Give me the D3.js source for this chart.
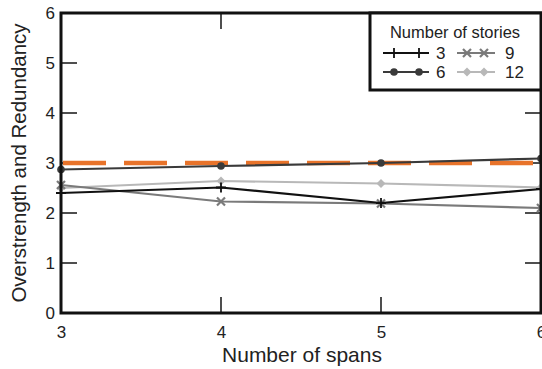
<!DOCTYPE html>
<html>
<head>
<meta charset="utf-8">
<script src="https://cdn.jsdelivr.net/npm/d3@7"></script>
<style>
  html, body { margin: 0; padding: 0; background: #fff; }
  svg { display: block; font-family: "Liberation Sans", Arial, sans-serif; }
</style>
</head>
<body>
<svg id="chart" width="542" height="369"></svg>
<script>
// Number of spans on the x axis
const spans = [3, 4, 5, 6];
// Overstrength and redundancy per building height
const stories3  = [2.40, 2.51, 2.20, 2.48];
const stories6  = [2.87, 2.94, 3.00, 3.09];
const stories9  = [2.56, 2.23, 2.19, 2.10];
const stories12 = [2.50, 2.64, 2.59, 2.51];
// Reference value drawn as the dashed line
const referenceValue = 3.0;
const yTicks = [0, 1, 2, 3, 4, 5, 6];
const xTicks = [3, 4, 5, 6];

const series = [
  { name: "3",  values: stories3,  color: "#111111", marker: "plus" },
  { name: "6",  values: stories6,  color: "#3a3a3a", marker: "circle" },
  { name: "9",  values: stories9,  color: "#7a7a7a", marker: "cross" },
  { name: "12", values: stories12, color: "#b8b8b8", marker: "diamond" }
];

const svg = d3.select("#chart");
const margin = { left: 61, right: 1, top: 13, bottom: 56 };
const W = 542, H = 369;

const x = d3.scaleLinear().domain([3, 6]).range([margin.left, W - margin.right]);
const y = d3.scaleLinear().domain([0, 6]).range([H - margin.bottom, margin.top]);

const textColor = "#222";
const fontFamily = "Liberation Sans, Arial, sans-serif";

// Tick marks pointing inward on all four sides
const tickLen = 16;
const g = svg.append("g");
yTicks.filter(v => v > 0 && v < 6).forEach(v => {
  g.append("line").attr("x1", x(3)).attr("x2", x(3) + tickLen)
    .attr("y1", y(v)).attr("y2", y(v)).attr("stroke", "#222").attr("stroke-width", 1.6);
  g.append("line").attr("x1", x(6)).attr("x2", x(6) - tickLen)
    .attr("y1", y(v)).attr("y2", y(v)).attr("stroke", "#222").attr("stroke-width", 1.6);
});
xTicks.filter(v => v > 3 && v < 6).forEach(v => {
  g.append("line").attr("x1", x(v)).attr("x2", x(v))
    .attr("y1", y(0)).attr("y2", y(0) - tickLen).attr("stroke", "#222").attr("stroke-width", 1.6);
  g.append("line").attr("x1", x(v)).attr("x2", x(v))
    .attr("y1", y(6)).attr("y2", y(6) + tickLen).attr("stroke", "#222").attr("stroke-width", 1.6);
});

// Tick labels via d3 axes (tick lines hidden, labels only)
const yAxis = svg.append("g").attr("transform", `translate(${x(3)},0)`)
  .call(d3.axisLeft(y).tickValues(yTicks).tickSize(0).tickPadding(6).tickFormat(d3.format("d")));
yAxis.select(".domain").remove();
yAxis.selectAll("text").attr("font-size", 17).attr("fill", textColor)
  .attr("font-family", fontFamily);

const xAxis = svg.append("g").attr("transform", `translate(0,${y(0)})`)
  .call(d3.axisBottom(x).tickValues(xTicks).tickSize(0).tickPadding(13).tickFormat(d3.format("d")));
xAxis.select(".domain").remove();
xAxis.selectAll("text").attr("font-size", 17).attr("fill", textColor)
  .attr("font-family", fontFamily);

// Axis titles
svg.append("text").attr("x", x(4.5) + 1).attr("y", 362).attr("text-anchor", "middle")
  .attr("font-size", 21).attr("fill", textColor).text("Number of spans");
svg.append("text").attr("transform", `translate(26,${y(3)}) rotate(-90)`)
  .attr("text-anchor", "middle").attr("font-size", 20.5).attr("fill", textColor)
  .text("Overstrength and Redundancy");

// Reference dashed line
svg.append("line").attr("x1", x(3) + 2).attr("x2", x(6) - 8)
  .attr("y1", y(referenceValue)).attr("y2", y(referenceValue))
  .attr("stroke", "#e8732a").attr("stroke-width", 4.5).attr("stroke-dasharray", "43,18");

// Marker drawing helper
function drawMarker(sel, type, cx, cy, color) {
  if (type === "plus") {
    sel.append("path").attr("d", `M${cx - 5},${cy}H${cx + 5}M${cx},${cy - 5}V${cy + 5}`)
      .attr("stroke", color).attr("stroke-width", 1.8).attr("fill", "none");
  } else if (type === "circle") {
    sel.append("circle").attr("cx", cx).attr("cy", cy).attr("r", 3.8).attr("fill", color);
  } else if (type === "cross") {
    sel.append("path").attr("d", `M${cx - 4},${cy - 4}L${cx + 4},${cy + 4}M${cx - 4},${cy + 4}L${cx + 4},${cy - 4}`)
      .attr("stroke", color).attr("stroke-width", 2.2).attr("fill", "none");
  } else if (type === "diamond") {
    sel.append("path").attr("d", `M${cx},${cy - 4.5}L${cx + 4.5},${cy}L${cx},${cy + 4.5}L${cx - 4.5},${cy}Z`)
      .attr("fill", color);
  }
}

// Data series
const line = d3.line().x((d, i) => x(spans[i])).y(d => y(d));
const seriesG = svg.append("g");
series.slice().reverse().forEach(s => {
  seriesG.append("path").datum(s.values).attr("d", line)
    .attr("fill", "none").attr("stroke", s.color).attr("stroke-width", 2.2);
  s.values.forEach((v, i) => drawMarker(seriesG, s.marker, x(spans[i]), y(v), s.color));
});

// Plot frame
svg.append("rect").attr("x", x(3)).attr("y", y(6))
  .attr("width", x(6) - x(3)).attr("height", y(0) - y(6))
  .attr("fill", "none").attr("stroke", "#111").attr("stroke-width", 3);

// Legend
const lg = svg.append("g");
lg.append("rect").attr("x", 370).attr("y", 13).attr("width", 171).attr("height", 77)
  .attr("fill", "#fff").attr("stroke", "#111").attr("stroke-width", 3);
lg.append("text").attr("x", 455).attr("y", 37.5).attr("text-anchor", "middle")
  .attr("font-size", 16.5).attr("fill", textColor).text("Number of stories");
const legendPos = [
  { x0: 383, x1: 429, m0: 394, m1: 419, tx: 436, y: 53 },
  { x0: 383, x1: 429, m0: 394, m1: 419, tx: 436, y: 72 },
  { x0: 457, x1: 495, m0: 467, m1: 484, tx: 505, y: 53 },
  { x0: 457, x1: 495, m0: 467, m1: 484, tx: 505, y: 72 }
];
series.forEach((s, i) => {
  const p = legendPos[i];
  lg.append("line").attr("x1", p.x0).attr("x2", p.x1).attr("y1", p.y).attr("y2", p.y)
    .attr("stroke", s.color).attr("stroke-width", 2.2);
  drawMarker(lg, s.marker, p.m0, p.y, s.color);
  drawMarker(lg, s.marker, p.m1, p.y, s.color);
  lg.append("text").attr("x", p.tx).attr("y", p.y + 6).attr("font-size", 17)
    .attr("fill", textColor).text(s.name);
});
</script>
</body>
</html>
